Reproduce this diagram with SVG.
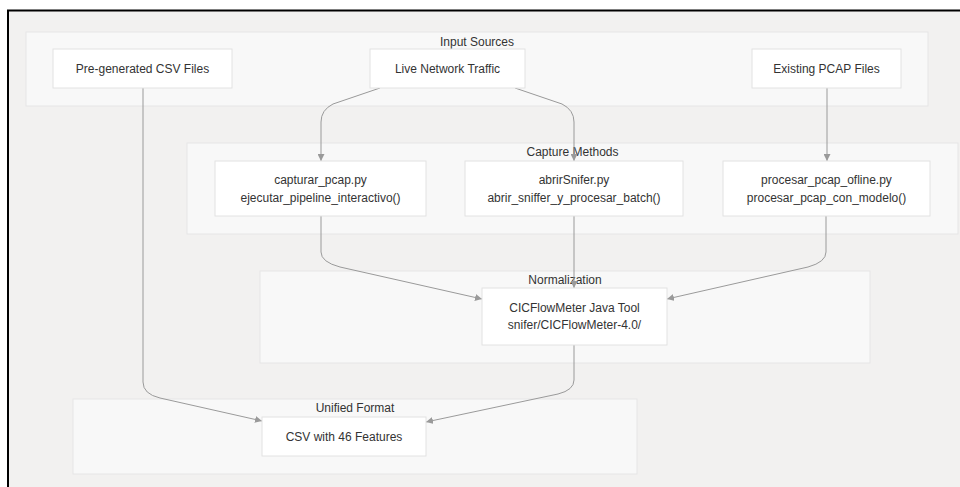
<svg xmlns="http://www.w3.org/2000/svg" width="960" height="487" viewBox="0 0 960 487">
  <defs>
    <style>
      .cluster { fill: #f8f8f8; stroke: #e6e6e6; stroke-width: 1; }
      .node rect { fill: #ffffff; stroke: #e2e2e2; stroke-width: 1; }
      .label { font-family: "Liberation Sans", Arial, sans-serif; font-size: 12px; fill: #333333; text-anchor: middle; dominant-baseline: central; }
      .edge { fill: none; stroke: #9a9a9a; stroke-width: 1; }
    </style>
    <marker id="arrow" viewBox="0 0 10 10" refX="10" refY="5" markerWidth="7" markerHeight="7" markerUnits="userSpaceOnUse" orient="auto">
      <path d="M0,0 L10,5 L0,10 z" fill="#9a9a9a"/>
    </marker>
  </defs>

  <!-- page -->
  <rect x="0" y="0" width="960" height="487" fill="#ffffff"/>
  <rect x="8" y="10" width="952" height="477" fill="#f2f1f0"/>
  <path d="M8,487 L8,10.5 L960,10.5" fill="none" stroke="#000000" stroke-width="2"/>

  <!-- subgraphs -->
  <g id="input-sources">
    <rect class="cluster" x="26" y="32" width="902" height="74"/>
    <text class="label" x="477" y="42">Input Sources</text>
  </g>
  <g id="capture-methods">
    <rect class="cluster" x="187" y="143" width="771" height="91"/>
    <text class="label" x="572.5" y="152">Capture Methods</text>
  </g>
  <g id="normalization">
    <rect class="cluster" x="260" y="271" width="610" height="92"/>
    <text class="label" x="565" y="280">Normalization</text>
  </g>
  <g id="unified-format">
    <rect class="cluster" x="73" y="399" width="564" height="75"/>
    <text class="label" x="355" y="408">Unified Format</text>
  </g>

  <!-- connectors -->
  <g id="edges">
    <path class="edge" d="M143,88 L143,382 Q143,394 160,398 L262,421" marker-end="url(#arrow)"/>
    <path class="edge" d="M380,88 L333,104 Q321,110 321,122 L321,161" marker-end="url(#arrow)"/>
    <path class="edge" d="M515,88 L562,104 Q574,110 574,122 L574,161" marker-end="url(#arrow)"/>
    <path class="edge" d="M827,88 L827,161" marker-end="url(#arrow)"/>
    <path class="edge" d="M321,216 L321,252 Q321,262 340,267 L482,299" marker-end="url(#arrow)"/>
    <path class="edge" d="M574,216 L574,288" marker-end="url(#arrow)"/>
    <path class="edge" d="M826,216 L826,252 Q826,262 808,267 L667,299" marker-end="url(#arrow)"/>
    <path class="edge" d="M574,345 L574,380 Q574,390 558,394 L426,422" marker-end="url(#arrow)"/>
  </g>

  <!-- nodes -->
  <g id="pregenerated-csv" class="node">
    <rect x="53" y="49" width="179" height="39"/>
    <text class="label" x="142.5" y="68.5">Pre-generated CSV Files</text>
  </g>
  <g id="live-traffic" class="node">
    <rect x="370" y="49" width="155" height="39"/>
    <text class="label" x="447.5" y="68.5">Live Network Traffic</text>
  </g>
  <g id="existing-pcap" class="node">
    <rect x="752" y="49" width="149" height="39"/>
    <text class="label" x="826.5" y="68.5">Existing PCAP Files</text>
  </g>
  <g id="capturar-pcap" class="node">
    <rect x="215" y="161" width="211" height="55"/>
    <text class="label" x="320.5" y="180">capturar_pcap.py</text>
    <text class="label" x="320.5" y="198">ejecutar_pipeline_interactivo()</text>
  </g>
  <g id="abrir-snifer" class="node">
    <rect x="465" y="161" width="218" height="55"/>
    <text class="label" x="574" y="180">abrirSnifer.py</text>
    <text class="label" x="574" y="198">abrir_sniffer_y_procesar_batch()</text>
  </g>
  <g id="procesar-offline" class="node">
    <rect x="723" y="161" width="207" height="55"/>
    <text class="label" x="826.5" y="180">procesar_pcap_ofline.py</text>
    <text class="label" x="826.5" y="198">procesar_pcap_con_modelo()</text>
  </g>
  <g id="cicflowmeter" class="node">
    <rect x="482" y="288" width="185" height="57"/>
    <text class="label" x="574.5" y="308">CICFlowMeter Java Tool</text>
    <text class="label" x="574.5" y="325">snifer/CICFlowMeter-4.0/</text>
  </g>
  <g id="csv-46" class="node">
    <rect x="262" y="417" width="164" height="39"/>
    <text class="label" x="344" y="436.5">CSV with 46 Features</text>
  </g>
</svg>
